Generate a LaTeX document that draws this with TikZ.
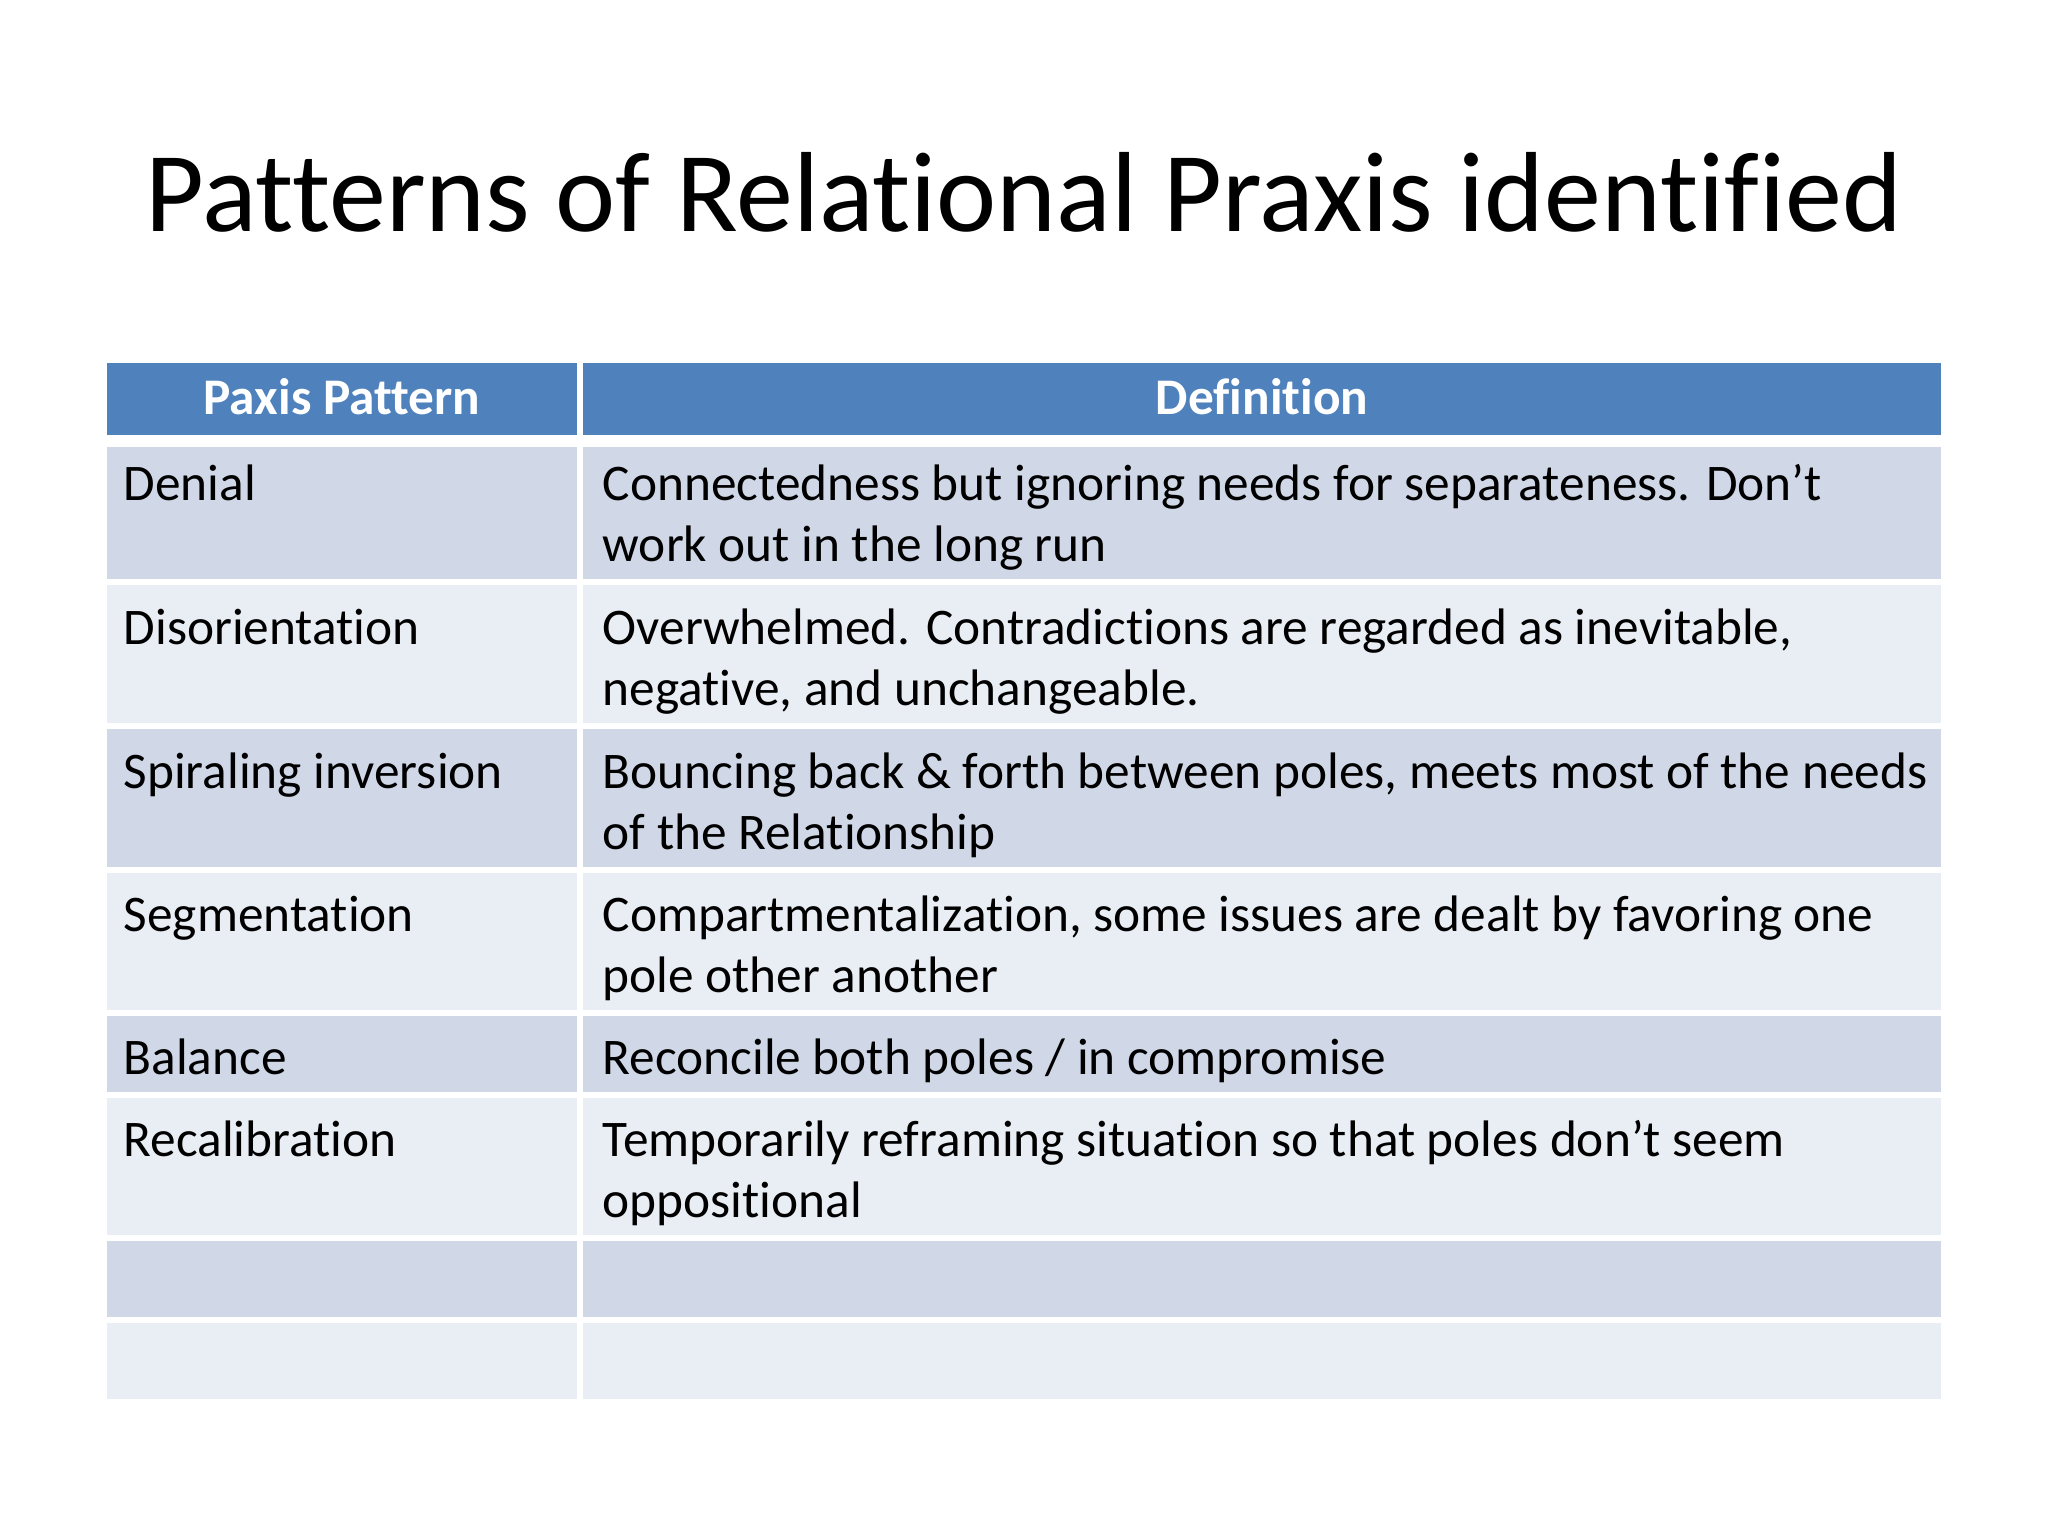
\documentclass[tikz,border=0pt]{standalone}
\usepackage{fontspec}
\setmainfont[Ligatures=NoCommon]{Carlito}
\definecolor{hdr}{HTML}{4F81BD}
\definecolor{rowA}{HTML}{D0D8E8}
\definecolor{rowB}{HTML}{E9EDF4}
\begin{document}
\begin{tikzpicture}[x=0.01cm,y=-0.01cm,
  cell/.style={draw=white,line width=1.6pt},
  txt/.style={anchor=base west,inner sep=0pt,font=\fontsize{14.6}{17}\selectfont},
  htxt/.style={anchor=base,inner sep=0pt,text=white,font=\fontsize{14.6}{17}\selectfont\bfseries}]
\useasboundingbox (0,0) rectangle (2048,1536);
\node[anchor=base,inner sep=0pt,font=\fontsize{32.4}{38}\selectfont] (title) at (1024,231) {Patterns of Relational Praxis identified};
% header
\fill[hdr,cell] (104,360) rectangle (580,438);
\fill[hdr,cell] (580,360) rectangle (1944,438);
\node[htxt] (h1) at (342,414) {Paxis Pattern};
\node[htxt] (h2) at (1262,414) {Definition};
% rows
\def\rows{444/582/rowA,582/726/rowB,726/870/rowA,870/1013/rowB,1013/1095/rowA,1095/1238/rowB,1238/1320/rowA,1320/1402/rowB}
\foreach \a/\b/\c in \rows {
  \fill[\c,cell] (104,\a) rectangle (580,\b);
  \fill[\c,cell] (580,\a) rectangle (1944,\b);
}
\node[txt] (p1) at (123,500) {Denial};
\node[txt] (d1a) at (602,500) {Connectedness but ignoring needs for separateness. Don’t};
\node[txt] (d1b) at (602,561) {work out in the long run};
\node[txt] (p2) at (123,644) {Disorientation};
\node[txt] (d2a) at (602,644) {Overwhelmed. Contradictions are regarded as inevitable,};
\node[txt] (d2b) at (602,705) {negative, and unchangeable.};
\node[txt] (p3) at (123,788) {Spiraling inversion};
\node[txt] (d3a) at (602,788) {Bouncing back \& forth between poles, meets most of the needs};
\node[txt] (d3b) at (602,849) {of the Relationship};
\node[txt] (p4) at (123,931) {Segmentation};
\node[txt] (d4a) at (602,931) {Compartmentalization, some issues are dealt by favoring one};
\node[txt] (d4b) at (602,992) {pole other another};
\node[txt] (p5) at (123,1074) {Balance};
\node[txt] (d5a) at (602,1074) {Reconcile both poles / in compromise};
\node[txt] (p6) at (123,1156) {Recalibration};
\node[txt] (d6a) at (602,1156) {Temporarily reframing situation so that poles don’t seem};
\node[txt] (d6b) at (602,1217) {oppositional};
\end{tikzpicture}
\end{document}
